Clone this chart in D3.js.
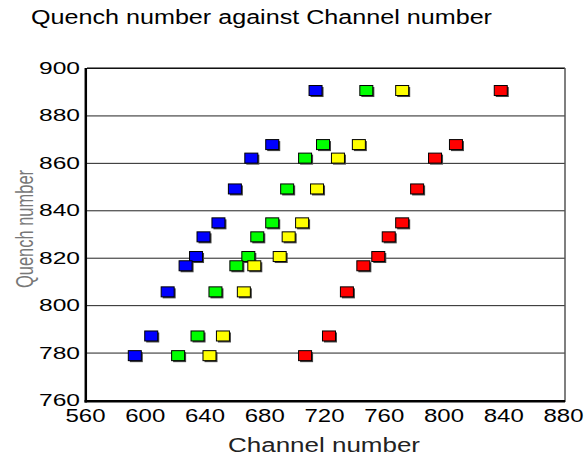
<!DOCTYPE html>
<html>
<head>
<meta charset="utf-8">
<script src="https://cdn.jsdelivr.net/npm/d3@7"></script>
<style>
  body { margin: 0; background: #fff; }
  text { font-family: "Liberation Sans", Arial, sans-serif; }
</style>
</head>
<body>
<div id="container"></div>
<script>
// Quench number for each row of markers (shared by all four series)
const quench = [890.5, 867.7, 862, 849, 834.7, 828.8, 820.5, 816.6, 805.6, 787, 778.7];

// Channel number per series, same order as quench
const blueChannels   = [713, 684, 670, 659, 648, 638, 633, 626, 614, 603, 592];
const greenChannels  = [747, 718, 706, 694, 684, 674, 668, 660, 646, 634, 621];
const yellowChannels = [771, 742, 728, 714, 704, 695, 689, 672, 665, 651, 642];
const redChannels    = [837, 807, 793, 781, 771, 762, 755, 745, 734, 722, 706];

const seriesNames  = ["blue", "green", "yellow", "red"];
const seriesColors = ["#0000ff", "#00ff00", "#ffff00", "#ff0000"];

const xTicks = [560, 600, 640, 680, 720, 760, 800, 840, 880];
const yTicks = [760, 780, 800, 820, 840, 860, 880, 900];

const width = 587;
const height = 459;
const marginTop = 68;
const marginRight = 22;
const marginBottom = 59;
const marginLeft = 87;

const x = d3.scaleLinear()
    .domain([560, 880])
    .range([marginLeft, width - marginRight]);

const y = d3.scaleLinear()
    .domain([760, 900])
    .range([height - marginBottom, marginTop]);

const svg = d3.create("svg")
    .attr("width", width)
    .attr("height", height)
    .attr("viewBox", [0, 0, width, height]);

// Title
svg.append("text")
    .attr("x", 261.5)
    .attr("y", 24)
    .attr("text-anchor", "middle")
    .attr("font-size", 20)
    .attr("fill", "#000")
    .attr("textLength", 461)
    .attr("lengthAdjust", "spacingAndGlyphs")
    .text("Quench number against Channel number");

// Y axis with gridlines across the plot
svg.append("g")
    .attr("transform", `translate(${marginLeft},0)`)
    .call(d3.axisLeft(y).tickValues(yTicks).tickSize(-(width - marginRight - marginLeft)).tickPadding(7))
    .call(g => g.select(".domain").remove())
    .call(g => g.selectAll(".tick line").attr("stroke", "#222").attr("stroke-width", 1))
    .call(g => g.selectAll(".tick text")
        .attr("font-size", 17)
        .attr("fill", "#000")
        .attr("font-family", "Liberation Sans, Arial, sans-serif")
        .attr("textLength", 41)
        .attr("lengthAdjust", "spacingAndGlyphs"));

// X axis labels only
svg.append("g")
    .attr("transform", `translate(-2,${height - marginBottom})`)
    .call(d3.axisBottom(x).tickValues(xTicks).tickSize(0).tickPadding(9))
    .call(g => g.select(".domain").remove())
    .call(g => g.selectAll(".tick text")
        .attr("font-size", 18.5)
        .attr("fill", "#000")
        .attr("font-family", "Liberation Sans, Arial, sans-serif")
        .attr("textLength", 40)
        .attr("lengthAdjust", "spacingAndGlyphs"));

// Frame: thin top, grey right, thick left and bottom
const x0 = x.range()[0], x1 = x.range()[1];
const y0 = y.range()[0], y1 = y.range()[1];
svg.append("line").attr("x1", x0).attr("x2", x1).attr("y1", y1).attr("y2", y1)
    .attr("stroke", "#000").attr("stroke-width", 1);
svg.append("line").attr("x1", x1).attr("x2", x1).attr("y1", y1).attr("y2", y0 + 2)
    .attr("stroke", "#555").attr("stroke-width", 1.5);
svg.append("line").attr("x1", x0 - 1.2).attr("x2", x0 - 1.2).attr("y1", y1).attr("y2", y0 + 2.5)
    .attr("stroke", "#000").attr("stroke-width", 2.5);
svg.append("line").attr("x1", x0 - 2.5).attr("x2", x1).attr("y1", y0 + 1.2).attr("y2", y0 + 1.2)
    .attr("stroke", "#000").attr("stroke-width", 2.5);

// Markers
const channelLists = [blueChannels, greenChannels, yellowChannels, redChannels];
const points = [];
seriesNames.forEach((name, i) => {
  channelLists[i].forEach((c, j) => {
    points.push({ series: name, color: seriesColors[i], channel: c, quench: quench[j] });
  });
});

const markW = 13, markH = 10;
const marks = svg.append("g");
marks.selectAll(".shadow")
  .data(points)
  .join("rect")
    .attr("class", "shadow")
    .attr("x", d => x(d.channel) - markW / 2 + 1.5)
    .attr("y", d => y(d.quench) - markH / 2 + 1.5)
    .attr("width", markW)
    .attr("height", markH)
    .attr("fill", "#444");
marks.selectAll(".mark")
  .data(points)
  .join("rect")
    .attr("class", "mark")
    .attr("x", d => x(d.channel) - markW / 2)
    .attr("y", d => y(d.quench) - markH / 2)
    .attr("width", markW)
    .attr("height", markH)
    .attr("fill", d => d.color)
    .attr("stroke", "#000")
    .attr("stroke-width", 1);

// Axis titles
svg.append("text")
    .attr("x", 324)
    .attr("y", 451.5)
    .attr("text-anchor", "middle")
    .attr("font-size", 20)
    .attr("fill", "#222")
    .attr("textLength", 192)
    .attr("lengthAdjust", "spacingAndGlyphs")
    .text("Channel number");

svg.append("text")
    .attr("transform", "translate(33,229) scale(1.45,1) rotate(-90)")
    .attr("text-anchor", "middle")
    .attr("font-size", 16.5)
    .attr("fill", "#777")
    .attr("textLength", 118)
    .attr("lengthAdjust", "spacingAndGlyphs")
    .text("Quench number");

container.append(svg.node());
</script>
</body>
</html>
